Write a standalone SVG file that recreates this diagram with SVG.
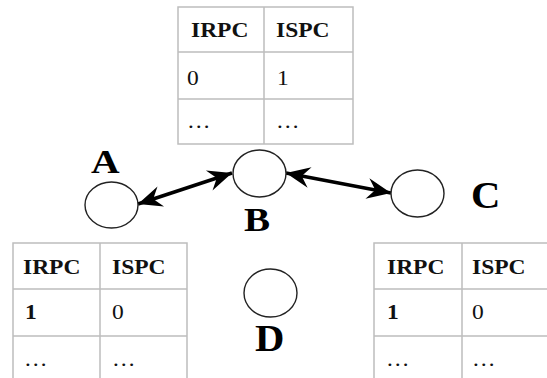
<svg xmlns="http://www.w3.org/2000/svg" width="547" height="378" viewBox="0 0 547 378">
  <defs>
    <style>
      .grid { fill: #fff; stroke: #bdbdbd; stroke-width: 1.5; }
      .gl { stroke: #bdbdbd; stroke-width: 1.5; }
      .th { font-family: "Liberation Serif", "Times New Roman", serif; font-size: 21px; font-weight: bold; fill: #111; }
      .td { font-family: "Liberation Serif", "Times New Roman", serif; font-size: 21px; fill: #111; }
      .tdb { font-family: "Liberation Serif", "Times New Roman", serif; font-size: 21px; font-weight: bold; fill: #111; }
      .node { fill: #fff; stroke: #222; stroke-width: 1.4; }
      .lbl { font-family: "Liberation Serif", "Times New Roman", serif; font-weight: bold; fill: #000; }
      .link { stroke: #000; stroke-width: 3.5; fill: none; marker-start: url(#head); marker-end: url(#head); }
    </style>
    <marker id="head" markerUnits="userSpaceOnUse" markerWidth="30" markerHeight="26" viewBox="-26 -13 28 26" refX="0" refY="0" orient="auto-start-reverse">
      <path d="M0,0 L-24,-10.5 L-16,0 L-24,10.5 Z" fill="#000"/>
    </marker>
  </defs>

  <!-- table above B -->
  <g id="table-b">
    <rect class="grid" x="178" y="7" width="175" height="137"/>
    <line class="gl" x1="264" y1="7" x2="264" y2="144"/>
    <line class="gl" x1="178" y1="52" x2="353" y2="52"/>
    <line class="gl" x1="178" y1="99" x2="353" y2="99"/>
    <text class="th" transform="translate(191,37) scale(1.12,1)">IRPC</text>
    <text class="th" transform="translate(276,37) scale(1.12,1)">ISPC</text>
    <text class="td" transform="translate(187,85) scale(1.12,1)">0</text>
    <text class="td" transform="translate(277,85) scale(1.12,1)">1</text>
    <text class="td" transform="translate(187,128) scale(1.12,1)">…</text>
    <text class="td" transform="translate(276,128) scale(1.12,1)">…</text>
  </g>

  <!-- table beside A -->
  <g id="table-a">
    <rect class="grid" x="13" y="243" width="174" height="150"/>
    <line class="gl" x1="100" y1="243" x2="100" y2="393"/>
    <line class="gl" x1="13" y1="289" x2="187" y2="289"/>
    <line class="gl" x1="13" y1="336" x2="187" y2="336"/>
    <text class="th" transform="translate(23,274) scale(1.12,1)">IRPC</text>
    <text class="th" transform="translate(112,274) scale(1.12,1)">ISPC</text>
    <text class="tdb" transform="translate(25,319) scale(1.12,1)">1</text>
    <text class="td" transform="translate(112,319) scale(1.12,1)">0</text>
    <text class="td" transform="translate(24,366) scale(1.12,1)">…</text>
    <text class="td" transform="translate(112,366) scale(1.12,1)">…</text>
  </g>

  <!-- table beside C -->
  <g id="table-c">
    <rect class="grid" x="374" y="243" width="180" height="150"/>
    <line class="gl" x1="462" y1="243" x2="462" y2="393"/>
    <line class="gl" x1="374" y1="289" x2="554" y2="289"/>
    <line class="gl" x1="374" y1="336" x2="554" y2="336"/>
    <text class="th" transform="translate(387,274) scale(1.12,1)">IRPC</text>
    <text class="th" transform="translate(472,274) scale(1.12,1)">ISPC</text>
    <text class="tdb" transform="translate(387,319) scale(1.12,1)">1</text>
    <text class="td" transform="translate(472,319) scale(1.12,1)">0</text>
    <text class="td" transform="translate(386,366) scale(1.12,1)">…</text>
    <text class="td" transform="translate(472,366) scale(1.12,1)">…</text>
  </g>

  <!-- connectors -->
  <g id="connectors">
    <line class="link" x1="138" y1="204" x2="232" y2="173"/>
    <line class="link" x1="286" y1="173" x2="391" y2="193"/>
  </g>

  <!-- nodes -->
  <g id="node-a">
    <ellipse class="node" cx="111.5" cy="205" rx="26.5" ry="23"/>
    <text class="lbl" font-size="33" transform="translate(91,173) scale(1.2,1)">A</text>
  </g>
  <g id="node-b">
    <ellipse class="node" cx="259.5" cy="173.5" rx="26.5" ry="23.5"/>
    <text class="lbl" font-size="34" transform="translate(244,231) scale(1.15,1)">B</text>
  </g>
  <g id="node-c">
    <ellipse class="node" cx="417.5" cy="193.5" rx="26.5" ry="23.5"/>
    <text class="lbl" font-size="37" transform="translate(471,208) scale(1.1,1)">C</text>
  </g>
  <g id="node-d">
    <ellipse class="node" cx="270.5" cy="293" rx="26.5" ry="24"/>
    <text class="lbl" font-size="37" transform="translate(255,351) scale(1.1,1)">D</text>
  </g>
</svg>
